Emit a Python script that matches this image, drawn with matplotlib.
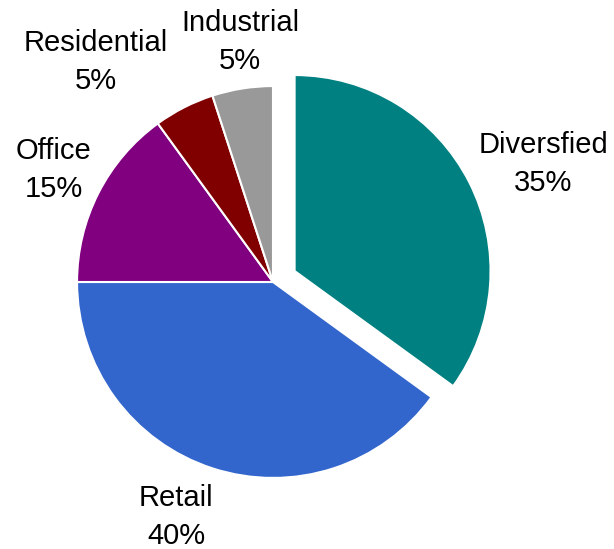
import numpy as np
import matplotlib.pyplot as plt

plt.rcParams['font.family'] = ['Liberation Sans', 'DejaVu Sans']

sectors = ['Diversfied', 'Retail', 'Office', 'Residential', 'Industrial']
shares = [35, 40, 15, 5, 5]
colors = ['#008080', '#3366CC', '#800080', '#800000', '#999999']
explode = [0.125, 0, 0, 0, 0]

# label placement (radius, angle in degrees) around the pie
label_r = [1.52, 1.31, 1.27, 1.455, 1.25]
label_ang = [23.6, -112.4, 153.0, 128.8, 97.8]

fig = plt.figure(figsize=(6.14, 5.49), dpi=100)
ax = fig.add_axes([0, 0, 1, 1])

ax.pie(shares, colors=colors, explode=explode, startangle=90, radius=1.01,
       counterclock=False, wedgeprops=dict(edgecolor='white', linewidth=1.5))

for name, pct, r, a in zip(sectors, shares, label_r, label_ang):
    x = r * np.cos(np.radians(a))
    y = r * np.sin(np.radians(a))
    ax.text(x, y, f'{name}\n{pct}%', ha='center', va='center',
            fontsize=21, linespacing=1.45)

ax.set_xlim(-273 / 194, (614 - 273) / 194)
ax.set_ylim(-(549 - 282) / 194, 282 / 194)
ax.set_aspect('equal')
ax.axis('off')

fig.savefig('out.png', dpi=100)
